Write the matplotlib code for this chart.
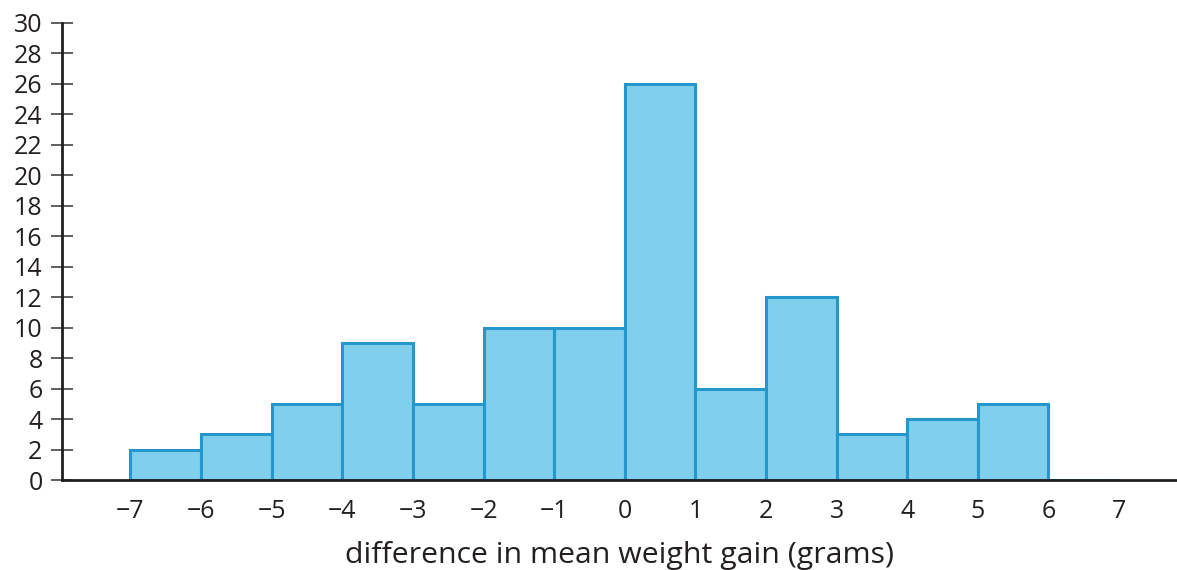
import numpy as np
import matplotlib as mpl
mpl.use('Agg')
import matplotlib.pyplot as plt

# histogram data
bin_left = [-7, -6, -5, -4, -3, -2, -1, 0, 1, 2, 3, 4, 5, 6]
counts = [2, 3, 5, 9, 5, 10, 10, 26, 6, 12, 3, 4, 5, 0]
xticks = list(range(-7, 8))
yticks = list(range(0, 31, 2))

plt.rcParams['font.family'] = ['Open Sans', 'DejaVu Sans']

fig = plt.figure(figsize=(11.77, 5.70), dpi=100)
ax = fig.add_axes([62/1177, 90/570, 1 - 62/1177, (480-23)/570])

ax.bar(bin_left, counts, width=1.0, align='edge', color='#80cfec',
       edgecolor='#2597cd', linewidth=2.2, zorder=2)

ax.set_xlim(-7.97, 7.82)
ax.set_ylim(0, 30)
for side in ['top', 'right']:
    ax.spines[side].set_visible(False)
for side in ['left', 'bottom']:
    ax.spines[side].set_linewidth(2.0)
    ax.spines[side].set_color('#231f20')
    ax.spines[side].set_zorder(3)

ax.set_yticks(yticks)
ax.set_xticks(xticks)
ax.set_xticklabels([('\u2212' + str(-t)) if t < 0 else str(t) for t in xticks])
ax.tick_params(axis='y', direction='inout', length=16, width=1.2, color='#444444',
               labelsize=18, labelcolor='#231f20', pad=6)
ax.tick_params(axis='x', length=0, labelsize=18, labelcolor='#231f20', pad=14)

ax.set_xlabel('difference in mean weight gain (grams)', fontsize=21.8, color='#231f20',
              labelpad=12)

fig.savefig('out.png', dpi=100)
